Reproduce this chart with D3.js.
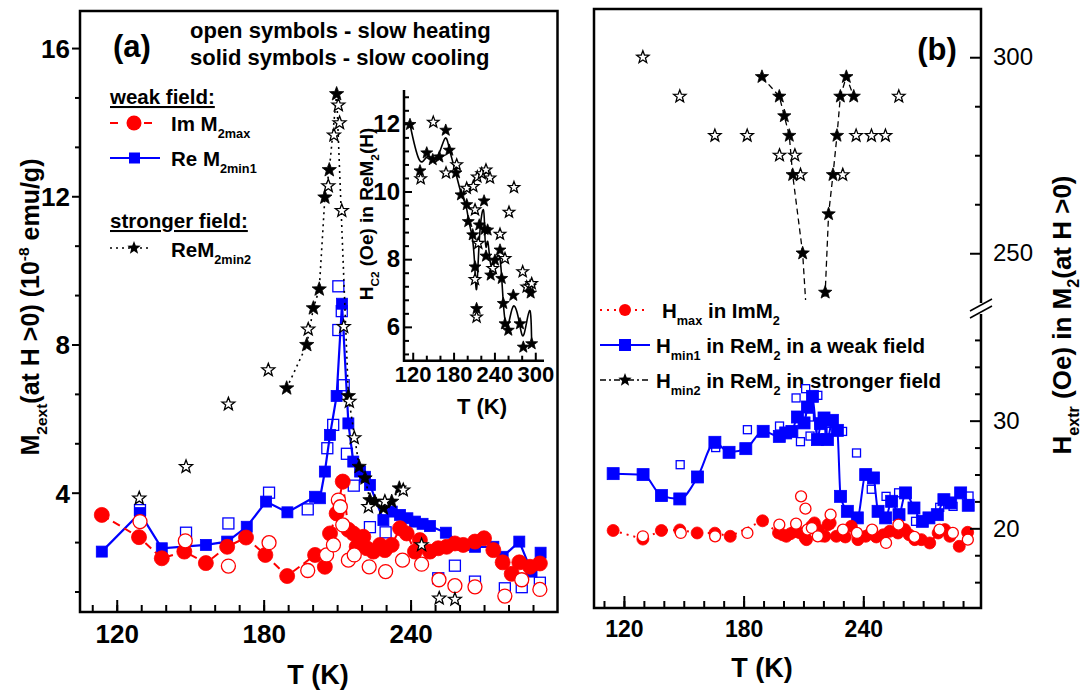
<!DOCTYPE html>
<html>
<head>
<meta charset="utf-8">
<script src="https://cdn.jsdelivr.net/npm/d3@7"></script>
<style>
  body { margin: 0; background: #fff; }
  text { font-family: "Liberation Sans", Arial, Helvetica, sans-serif; white-space: pre; }
</style>
</head>
<body>
<svg id="chart" width="1084" height="698"></svg>
<script>
// ---- data ----
// panel (a): [T (K), M2 (1e-8 emu/g)]
var imMaxCool = [[113.9,3.40],[129.1,2.80],[138.4,2.23],[147.6,2.41],[156.4,2.10],[165.1,2.54],[172.8,2.79],[180.7,2.32],[189.6,1.75],[201,2.32],[205,2.0],[207.1,2.90],[209.8,3.44],[212.3,4.30],[214.6,3.0],[216.6,2.90],[218,2.54],[220.7,2.81],[222.1,2.5],[224.8,2.41],[227.5,2.59],[229.5,2.45],[232.3,2.59],[235.7,3.04],[238.4,2.90],[241.8,2.41],[243.8,2.72],[247.9,2.41],[251.3,2.5],[254.7,2.54],[258.1,2.63],[261.5,2.59],[266.3,2.68],[270,2.77],[273.8,2.45],[277.6,2.12],[281.3,1.81],[284.4,2.12],[288.8,2.0],[292.8,2.09]];
var imMaxHeat = [[129.5,3.22],[148,2.70],[165.6,2.02],[182.2,2.65],[198,1.90],[205.7,2.32],[208.5,2.59],[210.5,3.80],[211.3,3.62],[212.3,3.13],[214.6,2.18],[217,2.32],[223.1,2.0],[229.8,1.87],[236.7,2.18],[244.5,2.07],[251.6,1.65],[258.1,1.49],[266.3,1.46],[278.5,1.21],[285.4,1.65],[292.8,1.39]];
var reMin1Cool = [[113.9,2.41],[129.5,3.45],[138.4,2.50],[156.4,2.59],[165.1,2.68],[173.1,3.08],[181,3.76],[189.7,3.47],[201,3.89],[203,3.85],[205,4.57],[207.1,5.56],[209.8,6.61],[212,9.1],[214.6,5.87],[216.6,4.84],[219.4,4.57],[221.4,4.43],[223.4,4.21],[228.9,3.26],[232.3,3.49],[235.7,3.40],[238.7,3.31],[241.8,3.22],[244.9,3.16],[247.9,3.10],[254.4,2.92],[261.5,2.59],[266.3,2.54],[273.8,2.54],[277.6,2.27],[284.4,2.68],[289.4,1.87],[293.1,2.38]];
var reMin1Heat = [[129.5,3.53],[148.3,2.92],[165.6,3.17],[182.2,4.0],[198,3.55],[206,5.2],[208.4,5.83],[210.5,8.39],[211.9,8.9],[210.5,9.57],[212.7,6.9],[214,5.05],[216.8,4.19],[223.4,3.07],[229.8,2.93],[251.3,1.69],[258.1,2.03],[266.3,1.60],[278.5,1.42],[285.4,1.45],[292.8,1.57]];
var reMin2Cool = [[189.4,6.82],[197.6,7.99],[200.3,8.98],[202.7,9.49],[205,11.97],[206.8,12.71],[209.8,14.76],[214.6,6.61],[219,4.70],[221.4,4.39],[223.4,3.80],[225.4,3.76],[228.9,3.58],[232.3,3.76],[235.4,4.12]];
var reMin2Heat = [[129.2,3.85],[148.3,4.70],[165.6,6.39],[181.9,7.31],[198.2,8.41],[206.4,12.28],[208.7,13.65],[210.5,14.46],[211,13.98],[211.9,11.61],[212.7,8.48],[215,6.46],[217,5.48],[222.8,3.62],[229.5,3.76],[237,4.07],[244.5,2.59],[251.7,1.15],[258.1,1.12]];

// inset: [T (K), Hc2 (Oe)]
var hc2Cool = [[116,11.98],[130.7,10.61],[140.6,11.14],[149.4,10.94],[159.1,11.02],[168.5,11.81],[173.7,11.22],[183.6,10.55],[190.9,9.90],[199.3,9.61],[201.6,9.11],[208.1,8.72],[211.5,7.77],[213.8,6.54],[217.8,9.01],[224.8,9.72],[225.4,8.88],[227.6,8.09],[230,8.86],[234.5,7.53],[240.8,7.97],[248.2,8.27],[250.7,7.43],[253,6.69],[255.5,6.09],[260.4,5.90],[267.7,6.93],[277.5,6.09],[282.4,5.40],[293.2,7.0],[294.7,5.50]];
var hc2Heat = [[131.7,10.38],[150.2,12.05],[168.9,10.55],[184.6,10.79],[199.3,10.10],[209,10.15],[211.5,9.46],[211.5,7.40],[213.8,6.29],[214.9,10.43],[216.3,8.47],[221.3,10.53],[227.6,10.64],[233.5,10.40],[237.5,7.73],[248.2,8.74],[255.5,8.02],[261.4,9.39],[268.7,10.12],[281.5,7.63],[287.4,7.18],[292.2,7.20],[294.7,7.28]];

// panel (b): [T (K), H (Oe)]
var hMin2Cool = [[189.2,295],[197.9,290],[200.4,285],[202.9,280],[204.6,270],[209.6,250],[211.8,232],[220.4,232],[220.9,240],[222.6,260],[224.8,270],[226.8,280],[228.5,290],[231.5,295],[235.2,290]];
var hMin2Heat = [[129.5,300],[148,290],[165.6,280],[181.8,280],[198,275],[205.7,275],[208.5,270],[229.7,270],[236.4,280],[244.1,280],[251.1,280],[257.8,290]];
var hMin1Cool = [[114.6,25.08],[129.6,24.99],[138.8,23.04],[148,22.73],[156.9,24.77],[165.6,27.99],[172.7,27.06],[181.1,27.40],[189.8,29.01],[197.9,28.54],[201.1,28.86],[204.2,29.0],[207,30.34],[210.3,29.79],[212,31.27],[214.5,32.26],[217,28.24],[218.6,29.72],[220.3,30.25],[222,28.24],[224.5,30.03],[227,29.10],[228.6,22.97],[232,21.58],[237,20.97],[241.2,24.99],[245.1,24.68],[247.4,21.58],[251.2,20.97],[254.2,22.51],[257.9,21.27],[261.2,23.29],[265.4,21.89],[269.6,20.65],[272.9,20.97],[277.1,21.27],[280.4,22.66],[283.8,22.36],[288.8,23.29],[292.6,22.14]];
var hMin1Heat = [[148.2,25.91],[166,27.5],[181.9,29.16],[198,29.5],[206.3,32.11],[208.5,28.05],[211.1,32.97],[213,30.34],[213.3,28.57],[217.2,32.35],[218.8,29.0],[223.8,29.0],[229.6,29.0],[236.6,27.0],[244,23.63],[251.4,22.97],[257.7,23.3],[266.2,20.65],[278.3,21.95],[285,22.04],[293,23.0]];
var hMaxCool = [[114.6,19.8],[129.5,19.0],[138.8,19.8],[148,19.85],[156.7,19.57],[165.6,19.55],[173.3,19.26],[189.5,20.7],[197.5,19.57],[199.5,19.4],[201.4,19.26],[203.5,19.5],[205.5,19.7],[208,19.6],[210.8,19.11],[211.5,18.95],[214,20.19],[215.5,20.5],[217.3,19.88],[219,19.3],[220.7,19.26],[222.3,20.34],[223.4,20.5],[226.5,19.26],[229,19.4],[231,19.2],[234,20.19],[237.3,18.95],[241.2,19.26],[243.5,19.5],[246.5,19.2],[250,19.4],[253.2,19.72],[257.4,19.57],[260.8,19.88],[263,19.4],[265.8,18.95],[269.1,18.95],[273.3,18.64],[277.5,19.57],[280.9,19.88],[283.4,19.26],[288.1,18.33],[292.3,19.63]];
var hMaxHeat = [[129.5,19.26],[148.5,19.57],[165.7,19.26],[181.9,19.57],[197.9,20.34],[206.3,20.43],[208.8,22.97],[211,21.83],[212,19.88],[214.2,20.03],[217.2,19.26],[223.6,21.27],[229.8,19.88],[236.8,19.57],[244.4,19.88],[251.4,18.64],[257.6,20.34],[265.6,19.2],[278.2,19.88],[284.9,19.57],[292.4,18.95]];

// tick labels
var tickTa = [120, 180, 240];
var tickMa = [4, 8, 12, 16];
var tickInT = [120, 180, 240, 300];
var tickInH = [6, 8, 10, 12];
var tickTb = [120, 180, 240];
var tickHup = [250, 300];
var tickHlow = [20, 30];

var RED = "#ff0000", BLUE = "#0000ff";

var svg = d3.select("#chart");

// scales
var xA = d3.scaleLinear().domain([105, 300]).range([80, 557.5]);
var yA = d3.scaleLinear().domain([0.78, 17.0]).range([612, 11]);
var xIn = d3.scaleLinear().domain([107.2, 312.8]).range([404, 544]);
var yIn = d3.scaleLinear().domain([5, 13]).range([360.7, 90]);
var xB = d3.scaleLinear().domain([105, 299]).range([594, 981]);
var yBU = d3.scaleLinear().domain([236.8, 312.3]).range([305, 9]);
var yBL = d3.scaleLinear().domain([12.6, 40]).range([608, 313]);

var defs = svg.append("defs");
defs.append("clipPath").attr("id", "clipA").append("rect").attr("x", 80).attr("y", 11).attr("width", 477.5).attr("height", 601);
defs.append("clipPath").attr("id", "clipBU").append("rect").attr("x", 594).attr("y", 9).attr("width", 387).attr("height", 291);
defs.append("clipPath").attr("id", "clipBL").append("rect").attr("x", 594).attr("y", 316).attr("width", 387).attr("height", 292);

// helpers
function starPath(R) {
  var p = [];
  for (var i = 0; i < 10; i++) {
    var r = i % 2 ? R * 0.42 : R;
    var a = -Math.PI / 2 + i * Math.PI / 5;
    p.push([r * Math.cos(a), r * Math.sin(a)]);
  }
  return "M" + p.join("L") + "Z";
}

function marks(g, data, sx, sy, shape, color, filled, size) {
  var sel = g.selectAll(null).data(data).enter();
  var m;
  if (shape === "circle") {
    m = sel.append("circle").attr("cx", function(d) { return sx(d[0]); })
      .attr("cy", function(d) { return sy(d[1]); }).attr("r", size);
  } else if (shape === "square") {
    m = sel.append("rect").attr("x", function(d) { return sx(d[0]) - size / 2; })
      .attr("y", function(d) { return sy(d[1]) - size / 2; })
      .attr("width", size).attr("height", size);
  } else {
    m = sel.append("path").attr("d", starPath(size))
      .attr("transform", function(d) { return "translate(" + sx(d[0]) + "," + sy(d[1]) + ")"; });
  }
  m.attr("fill", filled ? color : "#fff").attr("stroke", color)
    .attr("stroke-width", filled ? 0.8 : 1.3);
}

function trace(g, data, sx, sy, color, width, dash, curve) {
  var sorted = data.slice().sort(function(a, b) { return a[0] - b[0]; });
  g.append("path").datum(sorted)
    .attr("d", d3.line().x(function(d) { return sx(d[0]); }).y(function(d) { return sy(d[1]); })
      .curve(curve || d3.curveLinear))
    .attr("fill", "none").attr("stroke", color).attr("stroke-width", width)
    .attr("stroke-dasharray", dash || null);
}

// parts: strings or [string, "sub"|"sup"]
function rich(g, x, y, parts, size, opts) {
  opts = opts || {};
  var t = g.append("text").attr("x", x).attr("y", y).attr("font-size", size)
    .attr("font-weight", opts.weight || "bold").attr("text-anchor", opts.anchor || "start");
  if (opts.rotate) t.attr("transform", "rotate(-90," + x + "," + y + ")");
  if (opts.underline) t.attr("text-decoration", "underline");
  var shift = 0;
  parts.forEach(function(p) {
    var s = typeof p === "string" ? p : p[0];
    var kind = typeof p === "string" ? null : p[1];
    var target = kind === "sub" ? size * 0.32 : kind === "sup" ? -size * 0.42 : 0;
    var ts = t.append("tspan").text(s).attr("dy", target - shift);
    shift = target;
    if (kind) ts.attr("font-size", size * 0.62);
  });
  return t;
}

function styleAxis(g, fontSize, weight) {
  g.select(".domain").remove();
  g.selectAll(".tick line").attr("stroke", "#000").attr("stroke-width", 2);
  g.selectAll(".tick text").attr("font-size", fontSize).attr("font-weight", weight || "bold")
    .attr("fill", "#000").attr("font-family", null);
}

// ================= panel (a) =================
var gA = svg.append("g");
var plotA = gA.append("g").attr("clip-path", "url(#clipA)");

// blue: Re M2min1
marks(plotA, reMin1Heat, xA, yA, "square", BLUE, false, 11);
trace(plotA, reMin1Cool, xA, yA, BLUE, 2.2);
marks(plotA, reMin1Cool, xA, yA, "square", BLUE, true, 11);
// red: Im M2max
trace(plotA, imMaxCool, xA, yA, RED, 2, "8,5");
marks(plotA, imMaxCool, xA, yA, "circle", RED, true, 7.5);
marks(plotA, imMaxHeat, xA, yA, "circle", RED, false, 7);
// black: ReM2min2
trace(plotA, reMin2Cool, xA, yA, "#000", 1.6, "2,4");
marks(plotA, reMin2Cool, xA, yA, "star", "#000", true, 7.5);
marks(plotA, reMin2Heat, xA, yA, "star", "#000", false, 6.8);

// axes (a)
var axA1 = gA.append("g").attr("transform", "translate(0,612)")
  .call(d3.axisBottom(xA).tickValues(d3.range(110, 300, 10)).tickSize(-7).tickFormat(""));
styleAxis(axA1, 26);
var axA2 = gA.append("g").attr("transform", "translate(0,612)")
  .call(d3.axisBottom(xA).tickValues(tickTa).tickSize(-12).tickPadding(13));
styleAxis(axA2, 26);
var minorMa = d3.range(1, 13).map(function(i) { return i * 4 / 3; }).filter(function(v) { return Math.abs(v - Math.round(v / 4) * 4) > 0.01; });
var axA3 = gA.append("g").attr("transform", "translate(80,0)")
  .call(d3.axisLeft(yA).tickValues(minorMa).tickSize(5).tickFormat(""));
styleAxis(axA3, 26);
var axA4 = gA.append("g").attr("transform", "translate(80,0)")
  .call(d3.axisLeft(yA).tickValues(tickMa).tickSize(8).tickPadding(2));
styleAxis(axA4, 26);
axA4.selectAll(".tick text").attr("dy", "0.36em");

gA.append("rect").attr("x", 80).attr("y", 11).attr("width", 477.5).attr("height", 601)
  .attr("fill", "none").attr("stroke", "#000").attr("stroke-width", 2.5);

rich(gA, 318, 684, ["T (K)"], 27, { anchor: "middle" });
rich(gA, 39, 307, ["M", ["2ext", "sub"], "(at H >0) (10", ["-8", "sup"], " emu/g)"], 25, { anchor: "middle", rotate: true });

rich(gA, 132, 57, ["(a)"], 31, { anchor: "middle" });
rich(gA, 190, 38, ["open symbols - slow heating"], 22);
rich(gA, 190, 65, ["solid symbols - slow cooling"], 22);

// legend (a)
rich(gA, 110, 104, ["weak field:"], 20.5, { underline: true });
gA.append("line").attr("x1", 110).attr("x2", 152).attr("y1", 123).attr("y2", 123)
  .attr("stroke", RED).attr("stroke-width", 2).attr("stroke-dasharray", "8,26");
gA.append("circle").attr("cx", 134).attr("cy", 123).attr("r", 7.5).attr("fill", RED);
rich(gA, 171, 131, ["Im M", ["2max", "sub"]], 20.5);
gA.append("line").attr("x1", 110).attr("x2", 160).attr("y1", 158).attr("y2", 158)
  .attr("stroke", BLUE).attr("stroke-width", 2.2);
gA.append("rect").attr("x", 129).attr("y", 152.5).attr("width", 11).attr("height", 11).attr("fill", BLUE);
rich(gA, 171, 166, ["Re M", ["2min1", "sub"]], 20.5);
rich(gA, 110, 228, ["stronger field:"], 20.5, { underline: true });
gA.append("line").attr("x1", 110).attr("x2", 152).attr("y1", 248).attr("y2", 248)
  .attr("stroke", "#000").attr("stroke-width", 1.6).attr("stroke-dasharray", "2,4");
gA.append("path").attr("d", starPath(7)).attr("transform", "translate(134,248)").attr("fill", "#000");
rich(gA, 171, 257, ["ReM", ["2min2", "sub"]], 20.5);

// ================= inset =================
var gI = svg.append("g");
trace(gI, hc2Cool, xIn, yIn, "#000", 1.6, null, d3.curveBasis);
marks(gI, hc2Heat, xIn, yIn, "star", "#000", false, 6);
marks(gI, hc2Cool, xIn, yIn, "star", "#000", true, 6.3);

var minorInH = d3.range(26, 65, 2).map(function(v) { return v / 5; }).filter(function(v) { return Math.abs(v - Math.round(v / 2) * 2) > 0.01; });
var axI1 = gI.append("g").attr("transform", "translate(404,0)")
  .call(d3.axisLeft(yIn).tickValues(minorInH).tickSize(-5).tickFormat(""));
styleAxis(axI1, 22);
var axI2 = gI.append("g").attr("transform", "translate(404,0)")
  .call(d3.axisLeft(yIn).tickValues(tickInH).tickSize(-8).tickPadding(4));
styleAxis(axI2, 24);
var axI3 = gI.append("g").attr("transform", "translate(0,360.7)")
  .call(d3.axisBottom(xIn).tickValues([140, 160, 200, 220, 260, 280]).tickSize(-5).tickFormat(""));
styleAxis(axI3, 22);
var axI4 = gI.append("g").attr("transform", "translate(0,360.7)")
  .call(d3.axisBottom(xIn).tickValues(tickInT).tickSize(-8).tickPadding(6));
styleAxis(axI4, 22);
gI.append("path").attr("d", "M404,90V360.7H544").attr("fill", "none").attr("stroke", "#000").attr("stroke-width", 2.5);
rich(gI, 482, 414, ["T (K)"], 22, { anchor: "middle" });
rich(gI, 373, 214, ["H", ["C2", "sub"], " (Oe) in ReM", ["2", "sub"], "(H)"], 19, { anchor: "middle", rotate: true });

// ================= panel (b) =================
var gB = svg.append("g");

// legend (b) (drawn under the data)
gB.append("line").attr("x1", 600).attr("x2", 648).attr("y1", 310).attr("y2", 310)
  .attr("stroke", RED).attr("stroke-width", 2).attr("stroke-dasharray", "2,5");
gB.append("circle").attr("cx", 625).attr("cy", 310).attr("r", 6).attr("fill", RED);
rich(gB, 662, 318, ["H", ["max", "sub"], " in ImM", ["2", "sub"]], 20.5);
gB.append("line").attr("x1", 600).attr("x2", 650).attr("y1", 345).attr("y2", 345)
  .attr("stroke", BLUE).attr("stroke-width", 2);
gB.append("rect").attr("x", 619).attr("y", 339).attr("width", 12).attr("height", 12).attr("fill", BLUE);
rich(gB, 656, 353, ["H", ["min1", "sub"], " in ReM", ["2", "sub"], " in a weak field"], 20.5);
gB.append("line").attr("x1", 600).attr("x2", 650).attr("y1", 380).attr("y2", 380)
  .attr("stroke", "#000").attr("stroke-width", 1.5).attr("stroke-dasharray", "6,3,2,3");
gB.append("path").attr("d", starPath(7)).attr("transform", "translate(625,380)").attr("fill", "#000");
rich(gB, 656, 388, ["H", ["min2", "sub"], " in ReM", ["2", "sub"], " in stronger field"], 20.5);

var plotBU = gB.append("g").attr("clip-path", "url(#clipBU)");
trace(plotBU, hMin2Cool, xB, yBU, "#000", 1.3, "6,4");
marks(plotBU, hMin2Heat, xB, yBU, "star", "#000", false, 6.5);
marks(plotBU, hMin2Cool, xB, yBU, "star", "#000", true, 7);

var plotBL = gB.append("g").attr("clip-path", "url(#clipBL)");
marks(plotBL, hMin1Heat, xB, yBL, "square", BLUE, false, 8);
trace(plotBL, hMin1Cool, xB, yBL, BLUE, 2, null, d3.curveMonotoneX);
marks(plotBL, hMin1Cool, xB, yBL, "square", BLUE, true, 12);
trace(plotBL, hMaxCool, xB, yBL, RED, 2, "2,5");
marks(plotBL, hMaxCool, xB, yBL, "circle", RED, true, 6);
marks(plotBL, hMaxHeat, xB, yBL, "circle", RED, false, 5.5);

// axes (b)
var axB1 = gB.append("g").attr("transform", "translate(0,608)")
  .call(d3.axisBottom(xB).tickValues(d3.range(110, 300, 10)).tickSize(-7).tickFormat(""));
styleAxis(axB1, 23);
var axB2 = gB.append("g").attr("transform", "translate(0,608)")
  .call(d3.axisBottom(xB).tickValues(tickTb).tickSize(-12).tickPadding(13));
styleAxis(axB2, 23);
var axB3 = gB.append("g").attr("transform", "translate(981,0)")
  .call(d3.axisRight(yBU).tickValues([262.5, 275, 287.5]).tickSize(-6).tickFormat(""));
styleAxis(axB3, 24, "normal");
var axB4 = gB.append("g").attr("transform", "translate(981,0)")
  .call(d3.axisRight(yBU).tickValues(tickHup).tickSize(-11).tickPadding(12));
styleAxis(axB4, 24, "normal");
var axB5 = gB.append("g").attr("transform", "translate(981,0)")
  .call(d3.axisRight(yBL).tickValues([15, 17.5, 22.5, 25, 27.5, 32.5, 35, 37.5]).tickSize(-6).tickFormat(""));
styleAxis(axB5, 24, "normal");
var axB6 = gB.append("g").attr("transform", "translate(981,0)")
  .call(d3.axisRight(yBL).tickValues(tickHlow).tickSize(-11).tickPadding(12));
styleAxis(axB6, 24, "normal");

// frame of (b) with broken right axis
gB.append("path").attr("d", "M981,303V9H594V608H981V314")
  .attr("fill", "none").attr("stroke", "#000").attr("stroke-width", 2.5);
gB.append("line").attr("x1", 970).attr("y1", 311).attr("x2", 992).attr("y2", 299)
  .attr("stroke", "#000").attr("stroke-width", 1.5);
gB.append("line").attr("x1", 970).attr("y1", 318).attr("x2", 992).attr("y2", 306)
  .attr("stroke", "#000").attr("stroke-width", 1.5);

rich(gB, 762, 677, ["T (K)"], 27, { anchor: "middle" });
rich(gB, 937, 60, ["(b)"], 31, { anchor: "middle" });
rich(gB, 1071, 315, ["H", ["extr", "sub"], " (Oe) in M", ["2", "sub"], "(at H >0)"], 26, { anchor: "middle", rotate: true });
</script>
</body>
</html>
